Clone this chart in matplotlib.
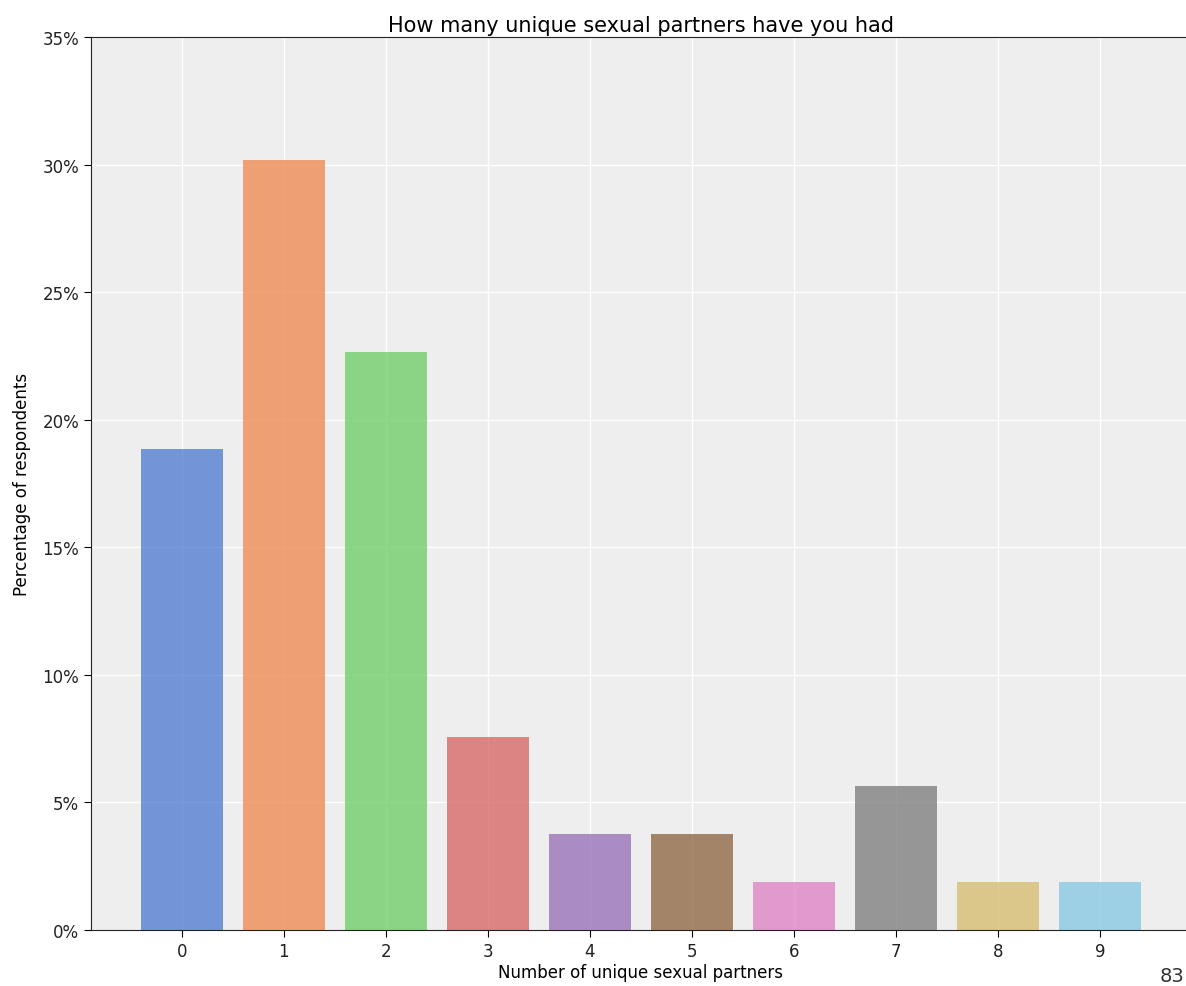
import matplotlib
matplotlib.use('Agg')
import matplotlib.pyplot as plt
import seaborn as sns
from matplotlib.ticker import PercentFormatter

# datos
parejas = ['0', '1', '2', '3', '4', '5', '6', '7', '8', '9']
porcentajes = [18.87, 30.19, 22.64, 7.55, 3.77, 3.77, 1.89, 5.66, 1.89, 1.89]
colores = sns.color_palette('muted', len(parejas))

fig = plt.figure(figsize=(11.86, 9.87), dpi=100)
ax = fig.add_axes([0.0767, 0.0567, 0.9273, 0.9048])
ax.set_facecolor('#eeeeee')
ax.set_axisbelow(True)
ax.grid(True, color='white', linewidth=1)

ax.bar(range(len(parejas)), porcentajes, color=colores, alpha=0.75, width=0.8)
ax.set_xticks(range(len(parejas)))
ax.set_xticklabels(parejas)
ax.set_ylim(0, 35)
ax.yaxis.set_major_formatter(PercentFormatter(decimals=0))
ax.tick_params(labelsize=12, length=5, labelcolor='#222222')

ax.spines['right'].set_visible(False)
for s in ['top', 'left', 'bottom']:
    ax.spines[s].set_color('#222222')

ax.set_title('How many unique sexual partners have you had', fontsize=15, pad=4)
ax.set_xlabel('Number of unique sexual partners', fontsize=12, labelpad=2)
ax.set_ylabel('Percentage of respondents', fontsize=12, labelpad=8)

# numero de la esquina inferior derecha
fig.text(0.999, 0.001, '83', fontsize=14, ha='right', va='bottom', color='#333333')

fig.savefig('out.png', dpi=100)
